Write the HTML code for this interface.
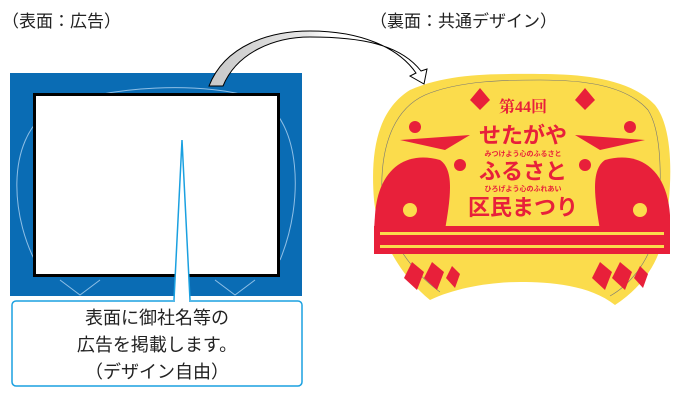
<!DOCTYPE html>
<html><head><meta charset="utf-8"><style>
body{margin:0;background:#fff;width:680px;height:400px;overflow:hidden;font-family:"Liberation Sans","Noto Sans CJK JP",sans-serif}
svg{position:absolute;left:0;top:0}
</style></head><body>
<svg width="680" height="400" viewBox="0 0 680 400" font-family="Liberation Sans, Noto Sans CJK JP, sans-serif">
<defs>
<linearGradient id="ag" x1="209" y1="0" x2="425" y2="0" gradientUnits="userSpaceOnUse">
<stop offset="0" stop-color="#c8c8c8"/><stop offset="0.45" stop-color="#e6e6e6"/><stop offset="0.55" stop-color="#fff"/><stop offset="1" stop-color="#fff"/>
</linearGradient>
</defs>
<text x="2" y="27" font-size="17" fill="#222">（表面：広告）</text>
<text x="370" y="27" font-size="17" fill="#222">（裏面：共通デザイン）</text>
<!-- blue ad side -->
<rect x="10" y="73" width="292" height="223" fill="#0a6cb4"/>
<path d="M40,270 C10,220 5,140 50,110 C100,85 210,80 260,100 C300,120 305,200 280,260 M60,280 L80,295 L100,280 M215,280 L235,295 L255,280" fill="none" stroke="#8fbfe6" stroke-width="1"/>
<rect x="34.5" y="94.5" width="244" height="181" fill="#fff" stroke="#000" stroke-width="3"/>
<!-- callout -->
<path d="M174,300 L182,140 L190,300" fill="#fff" stroke="#1aa0e0" stroke-width="1.5"/>
<rect x="12" y="301" width="290" height="85" rx="4" fill="#fff" stroke="#1aa0e0" stroke-width="1.5"/>
<rect x="175" y="298" width="14" height="5" fill="#fff"/>
<g font-size="18" fill="#222" text-anchor="middle">
<text x="157" y="324">表面に御社名等の</text>
<text x="157" y="351">広告を掲載します。</text>
<text x="157" y="378">（デザイン自由）</text>
</g>
<!-- curved arrow -->
<path d="M209,86 C225,45 270,31 310,31 C360,31 398,47 416,73 L410,76 L424,84 L427,69 L421,71 C400,44 360,37 310,37 C275,37 237,52 223,86 Z" fill="url(#ag)" stroke="#000" stroke-width="1"/>
<!-- fan -->
<path d="M430,300 C405,280 378,240 374,200 C370,150 378,110 410,90 C450,72 500,74 540,74 C580,74 630,78 655,105 C675,130 672,190 665,230 C660,260 645,285 615,305 C590,285 550,282 520,282 C490,282 455,288 430,300 Z" fill="#fbdc4c"/>
<path d="M440,292 C410,270 385,235 382,195 C380,150 392,110 425,95 C460,80 510,80 540,80 C580,80 625,84 648,110 C664,135 662,200 655,235 C648,262 630,285 610,296" fill="none" stroke="#777" stroke-width="0.6"/>
<g fill="#e8203a">
<path d="M375,215 C378,170 405,150 440,160 C455,170 450,200 445,230 L374,230 Z"/>
<path d="M670,215 C667,170 640,150 605,160 C590,170 595,200 600,230 L670,230 Z"/>
<rect x="374" y="226" width="296" height="28"/>
<path d="M412,262 l12,10 l-7,18 l-13,-12 Z M432,262 l12,10 l-7,18 l-13,-12 Z M452,266 l8,8 l-5,14 l-9,-10 Z M600,262 l12,10 l-7,18 l-13,-12 Z M620,262 l12,10 l-7,18 l-13,-12 Z M640,266 l8,8 l-5,14 l-9,-10 Z"/>
<path d="M400,140 L470,135 L445,150 Z M645,140 L575,135 L600,150 Z"/>
<path d="M470,100 l10,-12 l10,12 l-10,10 Z M575,100 l10,-12 l10,12 l-10,10 Z"/>
<circle cx="415" cy="127" r="6"/><circle cx="630" cy="127" r="6"/>
<circle cx="460" cy="165" r="6"/><circle cx="585" cy="165" r="6"/>
</g>
<g fill="#fbdc4c"><rect x="380" y="232" width="284" height="3"/><rect x="380" y="245" width="284" height="3"/>
<circle cx="410" cy="210" r="7"/><circle cx="640" cy="210" r="7"/></g>
<g fill="#e8203a" text-anchor="middle" font-weight="bold">
<text x="523" y="112" font-size="16" font-family="Liberation Serif, Noto Serif CJK SC, serif">第44回</text>
<text x="523" y="143" font-size="22">せたがや</text>
<text x="523" y="156" font-size="7">みつけよう心のふるさと</text>
<text x="523" y="179" font-size="22">ふるさと</text>
<text x="523" y="191" font-size="7">ひろげよう心のふれあい</text>
<text x="523" y="215" font-size="22">区民まつり</text>
</g>
</svg>
</body></html>
